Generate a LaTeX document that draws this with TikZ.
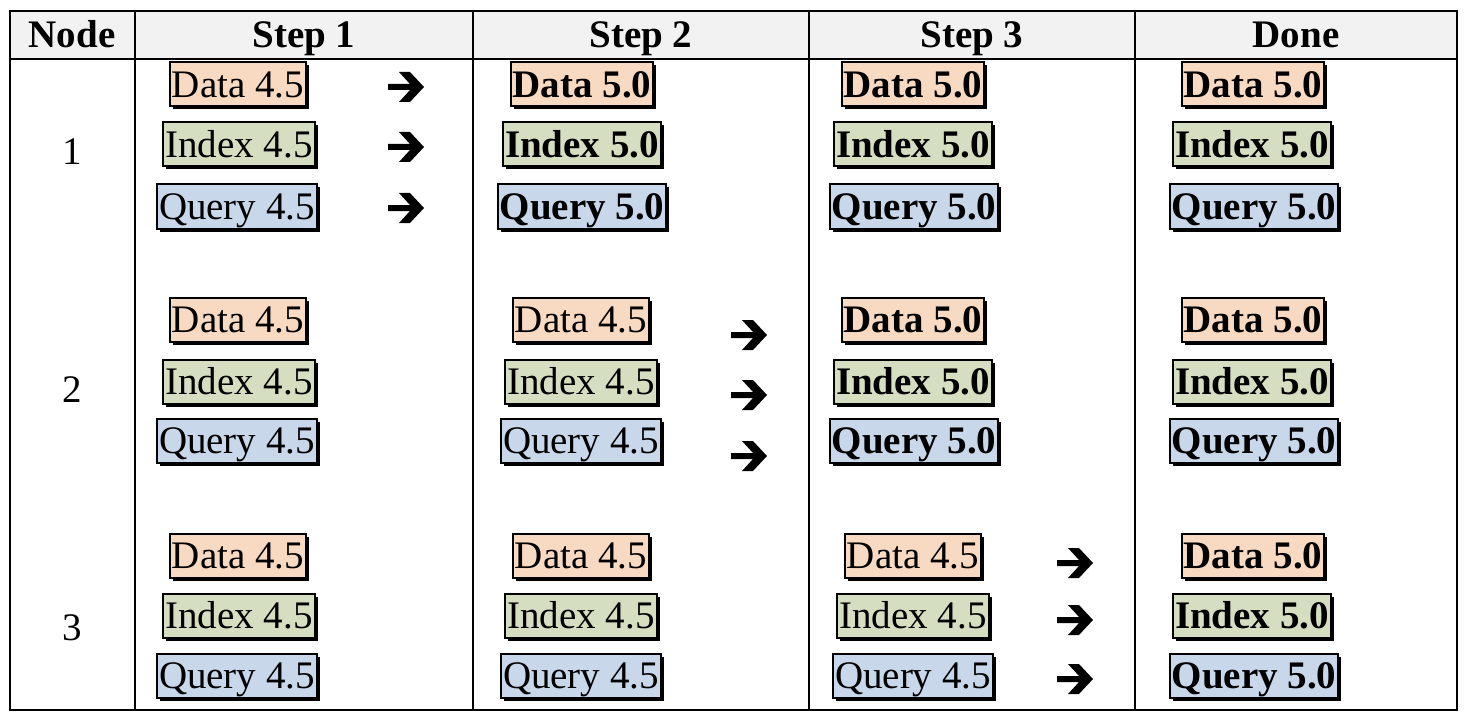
\documentclass[tikz,border=0pt]{standalone}
\usepackage{fontspec}
\setmainfont{Liberation Serif}
\usetikzlibrary{shadows}
\definecolor{cdata}{HTML}{F8D9C1}
\definecolor{cindex}{HTML}{D5DEC1}
\definecolor{cquery}{HTML}{C8D8EA}
\definecolor{headbg}{HTML}{F2F2F2}
\begin{document}
\begin{tikzpicture}[x=0.5pt,y=-0.5pt,
  txt/.style={font=\fontsize{19.5}{22}\selectfont, inner sep=0pt},
  head/.style={txt, font=\fontsize{19.5}{22}\selectfont\bfseries, anchor=base},
  verbox/.style={draw=black, line width=1pt, font=\fontsize{19.5}{22}\selectfont,
    inner xsep=1pt, inner ysep=0pt, text height=17.5pt, text depth=4.5pt,
    drop shadow={shadow xshift=1.5pt, shadow yshift=-1.5pt, fill=black, opacity=1}},
  old/.style={verbox},
  new/.style={verbox, font=\fontsize{19.5}{22}\selectfont\bfseries},
  dat/.style={fill=cdata},
  idx/.style={fill=cindex},
  qry/.style={fill=cquery},
  grid/.style={line width=1pt, draw=black},
  harrow/.pic={\fill[black] (-18,-3) -- (4,-3) -- (-7,-15) -- (4,-15) -- (18,0) -- (4,15) -- (-7,15) -- (4,3) -- (-18,3) -- cycle;}
]
\useasboundingbox (0,0) rectangle (1468,722);
% table
\fill[headbg] (10,11) rectangle (1457,59);
\draw[grid] (10,11) rectangle (1457,710);
\draw[grid] (10,59) -- (1457,59);
\foreach \x in {135,473,809,1135} \draw[grid] (\x,11) -- (\x,710);
% header
\node[head] (hnode) at (72,48) {Node};
\node[head] (hs1) at (304,48) {Step 1};
\node[head] (hs2) at (641,48) {Step 2};
\node[head] (hs3) at (972,48) {Step 3};
\node[head] (hdone) at (1296,48) {Done};
% node labels
\node[txt] (n1) at (72,152) {1};
\node[txt] (n2) at (72,390) {2};
\node[txt] (n3) at (72,628) {3};
% row 1
\node[old,dat] (d11) at (238,84.5) {Data 4.5};
\node[old,idx] (i11) at (239,144.5) {Index 4.5};
\node[old,qry] (q11) at (237,206.5) {Query 4.5};
\node[new,dat] (d12) at (582,84.5) {Data 5.0};
\node[new,idx] (i12) at (582,144.5) {Index 5.0};
\node[new,qry] (q12) at (582,206.5) {Query 5.0};
\node[new,dat] (d13) at (913,84.5) {Data 5.0};
\node[new,idx] (i13) at (913,144.5) {Index 5.0};
\node[new,qry] (q13) at (914,206.5) {Query 5.0};
\node[new,dat] (d14) at (1253,84.5) {Data 5.0};
\node[new,idx] (i14) at (1252,144.5) {Index 5.0};
\node[new,qry] (q14) at (1254,206.5) {Query 5.0};
% row 2
\node[old,dat] (d21) at (238,319.5) {Data 4.5};
\node[old,idx] (i21) at (239,381.5) {Index 4.5};
\node[old,qry] (q21) at (237,440.5) {Query 4.5};
\node[old,dat] (d22) at (581,319.5) {Data 4.5};
\node[old,idx] (i22) at (581,381.5) {Index 4.5};
\node[old,qry] (q22) at (581,440.5) {Query 4.5};
\node[new,dat] (d23) at (913,319.5) {Data 5.0};
\node[new,idx] (i23) at (913,381.5) {Index 5.0};
\node[new,qry] (q23) at (914,440.5) {Query 5.0};
\node[new,dat] (d24) at (1253,319.5) {Data 5.0};
\node[new,idx] (i24) at (1252,381.5) {Index 5.0};
\node[new,qry] (q24) at (1254,440.5) {Query 5.0};
% row 3
\node[old,dat] (d31) at (238,555.5) {Data 4.5};
\node[old,idx] (i31) at (239,615.5) {Index 4.5};
\node[old,qry] (q31) at (237,675.5) {Query 4.5};
\node[old,dat] (d32) at (581,555.5) {Data 4.5};
\node[old,idx] (i32) at (581,615.5) {Index 4.5};
\node[old,qry] (q32) at (581,675.5) {Query 4.5};
\node[old,dat] (d33) at (913,555.5) {Data 4.5};
\node[old,idx] (i33) at (913,615.5) {Index 4.5};
\node[old,qry] (q33) at (913,675.5) {Query 4.5};
\node[new,dat] (d34) at (1253,555.5) {Data 5.0};
\node[new,idx] (i34) at (1252,615.5) {Index 5.0};
\node[new,qry] (q34) at (1254,675.5) {Query 5.0};
% arrows
\pic (a11) at (406,87) {harrow};
\pic (a12) at (406,147) {harrow};
\pic (a13) at (406,208) {harrow};
\pic (a21) at (749,335) {harrow};
\pic (a22) at (749,395) {harrow};
\pic (a23) at (749,456) {harrow};
\pic (a31) at (1075,563) {harrow};
\pic (a32) at (1075,620) {harrow};
\pic (a33) at (1075,679) {harrow};
\end{tikzpicture}
\end{document}
